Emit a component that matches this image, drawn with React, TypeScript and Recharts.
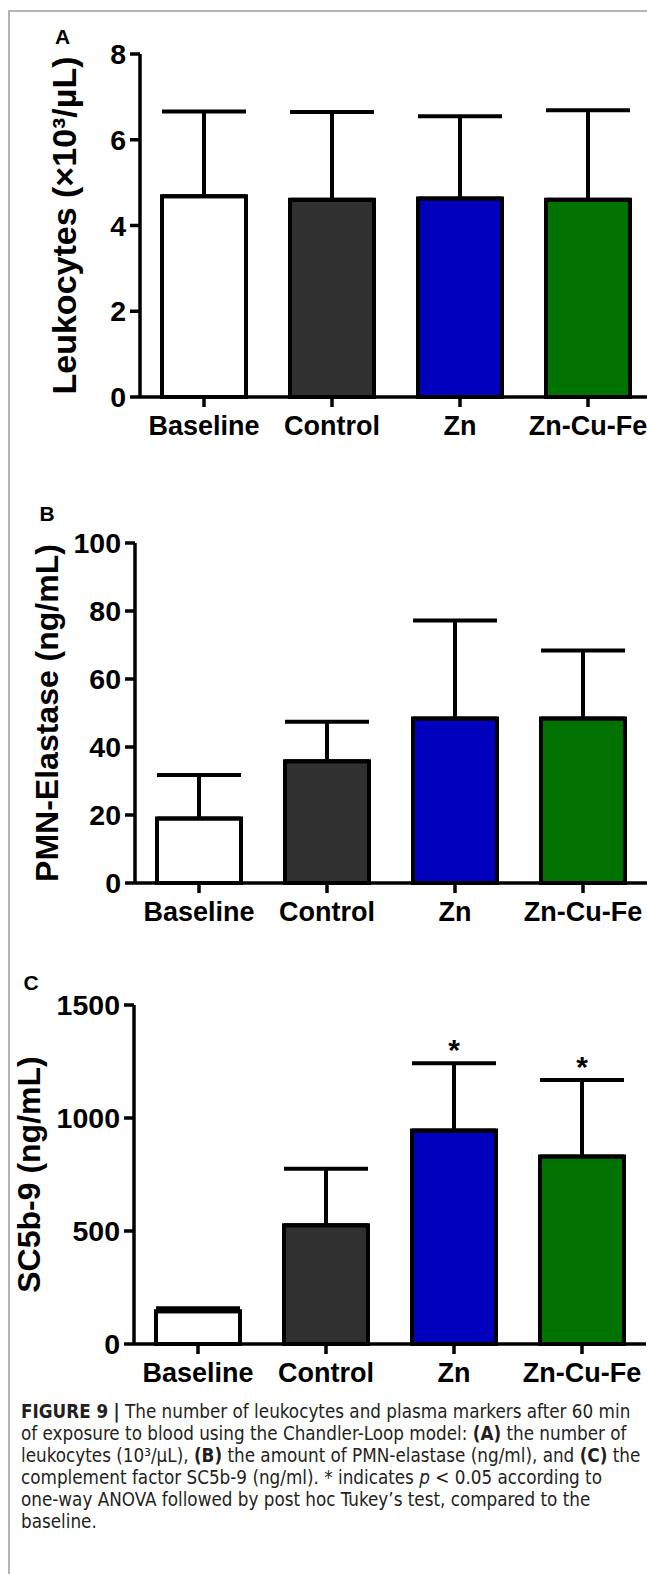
import React from 'react';
import { BarChart, Bar, XAxis, YAxis, ErrorBar, Cell, ReferenceDot } from 'recharts';

// groups on the x axis
const categories = ['Baseline', 'Control', 'Zn', 'Zn-Cu-Fe'];

// A: leukocytes (x10^3/uL), mean and SD
const leukocyteMean = [4.68, 4.6, 4.63, 4.6];
const leukocyteSd = [1.98, 2.05, 1.92, 2.09];

// B: PMN-elastase (ng/mL)
const elastaseMean = [19, 35.8, 48.4, 48.4];
const elastaseSd = [12.8, 11.6, 28.8, 20.0];

// C: SC5b-9 (ng/mL)
const sc5b9Mean = [145, 525, 945, 830];
const sc5b9Sd = [13, 250, 297, 338];

// significance marks (only drawn on panel C)
const noMarks = ['', '', '', ''];
const sc5b9Marks = ['', '', '*', '*'];

const leukocyteTicks = [0, 2, 4, 6, 8];
const elastaseTicks = [0, 20, 40, 60, 80, 100];
const sc5b9Ticks = [0, 500, 1000, 1500];

const barColors = ['#ffffff', '#303030', '#0000bd', '#007200'];

const FONT = '"Liberation Sans", Arial, Helvetica, sans-serif';
const CAPTION_FONT = '"Liberation Sans Narrow", "DejaVu Sans Condensed", "Liberation Sans", sans-serif';

const AxisTitle = ({ text, cx, cy, size }: { text: string; cx: number; cy: number; size: number }) => (
  <text
    x={cx}
    y={cy}
    dy="0.36em"
    transform={`rotate(-90 ${cx} ${cy})`}
    textAnchor="middle"
    fill="#000"
    fontFamily={FONT}
    fontWeight={700}
    fontSize={size}
  >
    {text}
  </text>
);

type PanelProps = {
  letter: string;
  letterX: number;
  letterY: number;
  title: string;
  titleX: number;
  titleSize: number;
  mean: number[];
  sd: number[];
  marks: string[];
  ticks: number[];
  axisX: number;
  plotTop: number;
  plotBottom: number;
};

const Panel = ({ letter, letterX, letterY, title, titleX, titleSize, mean, sd, marks, ticks, axisX, plotTop, plotBottom }: PanelProps) => {
  const data = categories.map((name, i) => ({
    name,
    value: mean[i],
    err: [0, sd[i]],
    top: mean[i] + sd[i],
    mark: marks[i],
  }));
  const pad = 20;
  const plotH = plotBottom - plotTop;
  const width = 660;
  const height = pad + plotH + 60;
  const axisStyle = { stroke: '#000', strokeWidth: 3.5 };
  const xTickStyle = { fill: '#000', fontSize: 27, fontWeight: 700, fontFamily: FONT };
  const yTickStyle = { fill: '#000', fontSize: 28.5, fontWeight: 700, fontFamily: FONT };

  return (
    <>
      <div
        style={{
          position: 'absolute',
          left: letterX,
          top: letterY,
          transform: 'translate(-50%, -50%)',
          font: `700 21px/21px ${FONT}`,
          color: '#000',
        }}
      >
        {letter}
      </div>
      <div style={{ position: 'absolute', left: 0, top: plotTop - pad }}>
        <BarChart
          width={width}
          height={height}
          data={data}
          margin={{ top: pad, right: width - axisX - 512, left: 0, bottom: 0 }}
        >
          <XAxis
            dataKey="name"
            height={60}
            interval={0}
            axisLine={axisStyle}
            tickLine={axisStyle}
            tickSize={10}
            tickMargin={9}
            tick={xTickStyle}
          />
          <YAxis
            width={axisX}
            domain={[0, ticks[ticks.length - 1]]}
            ticks={ticks}
            interval={0}
            axisLine={axisStyle}
            tickLine={axisStyle}
            tickSize={10}
            tickMargin={4}
            tick={yTickStyle}
            label={<AxisTitle text={title} cx={titleX} cy={pad + plotH / 2} size={titleSize} />}
          />
          <Bar dataKey="value" barSize={84} stroke="#000" strokeWidth={4} isAnimationActive={false}>
            {data.map((d, i) => (
              <Cell key={d.name} fill={barColors[i]} />
            ))}
            <ErrorBar dataKey="err" width={42} stroke="#000" strokeWidth={4} direction="y" isAnimationActive={false} />
          </Bar>
          {data
            .filter((d) => d.mark)
            .map((d) => (
              <ReferenceDot
                key={d.name}
                x={d.name}
                y={d.top}
                r={1}
                fill="none"
                stroke="none"
                label={{ value: d.mark, position: 'top', offset: 2, fill: '#000', fontSize: 30, fontWeight: 700, fontFamily: FONT }}
              />
            ))}
        </BarChart>
      </div>
    </>
  );
};

export default function App() {
  return (
    <div
      style={{
        position: 'fixed',
        left: 0,
        top: 0,
        width: 647,
        height: 1574,
        overflow: 'hidden',
        background: '#fff',
      }}
    >
      <div
        style={{
          position: 'absolute',
          left: 8,
          top: 10,
          width: 700,
          height: 1600,
          borderTop: '2px solid #b4b4b4',
          borderLeft: '2px solid #b4b4b4',
        }}
      />
      <Panel
        letter="A"
        letterX={62.5}
        letterY={36}
        title="Leukocytes (×10³/µL)"
        titleX={63.5}
        titleSize={34}
        mean={leukocyteMean}
        sd={leukocyteSd}
        marks={noMarks}
        ticks={leukocyteTicks}
        axisX={140}
        plotTop={54}
        plotBottom={397}
      />
      <Panel
        letter="B"
        letterX={47}
        letterY={513}
        title="PMN-Elastase (ng/mL)"
        titleX={46.5}
        titleSize={32}
        mean={elastaseMean}
        sd={elastaseSd}
        marks={noMarks}
        ticks={elastaseTicks}
        axisX={135}
        plotTop={543}
        plotBottom={883}
      />
      <Panel
        letter="C"
        letterX={31}
        letterY={982}
        title="SC5b-9 (ng/mL)"
        titleX={28}
        titleSize={32}
        mean={sc5b9Mean}
        sd={sc5b9Sd}
        marks={sc5b9Marks}
        ticks={sc5b9Ticks}
        axisX={134}
        plotTop={1005}
        plotBottom={1344}
      />
      <div
        style={{
          position: 'absolute',
          left: 21,
          top: 1401,
          font: `18.7px/22px ${CAPTION_FONT}`,
          color: '#231f20',
          whiteSpace: 'nowrap',
        }}
      >
        <b>FIGURE 9</b> <b>|</b> The number of leukocytes and plasma markers after 60 min
        <br />
        of exposure to blood using the Chandler-Loop model: <b>(A)</b> the number of
        <br />
        leukocytes (10³/µL), <b>(B)</b> the amount of PMN-elastase (ng/ml), and <b>(C)</b> the
        <br />
        complement factor SC5b-9 (ng/ml). * indicates <i>p</i> &lt; 0.05 according to
        <br />
        one-way ANOVA followed by post hoc Tukey’s test, compared to the
        <br />
        baseline.
      </div>
    </div>
  );
}
